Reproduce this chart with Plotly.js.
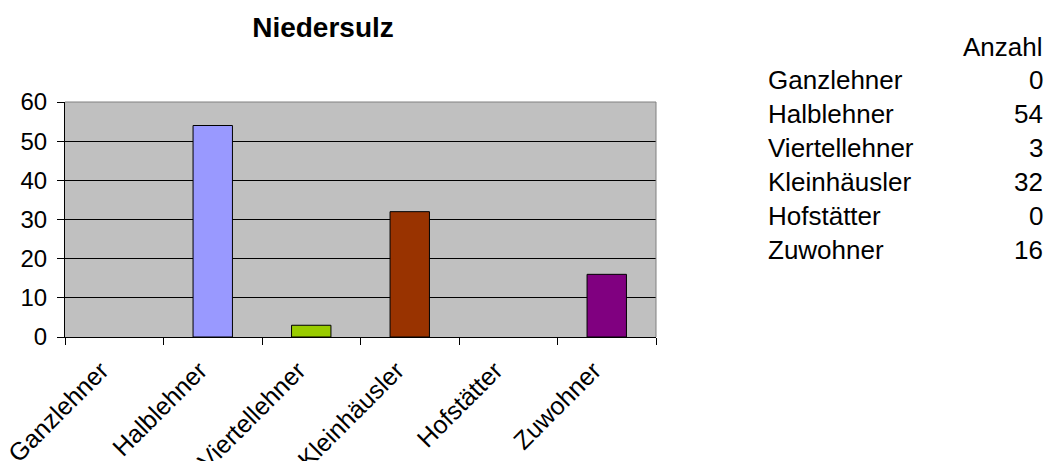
<!DOCTYPE html>
<html>
<head>
<meta charset="utf-8">
<script src="https://cdn.plot.ly/plotly-3.0.1.min.js"></script>
<style>html,body{margin:0;padding:0;background:#fff;}#chart{width:1050px;height:461px;}</style>
</head>
<body>
<div id="chart"></div>
<script>
const title = "Niedersulz";
const categories = ["Ganzlehner", "Halblehner", "Viertellehner", "Kleinhäusler", "Hofstätter", "Zuwohner"];
const values = [0, 54, 3, 32, 0, 16];
const barColors = ["#9999FF", "#9999FF", "#99CC00", "#993300", "#FFFFCC", "#800080"];
const tableHeader = "Anzahl";
const yTicks = [0, 10, 20, 30, 40, 50, 60];

const W = 1050, H = 461;
const L = 65, R = 656, T = 102, B = 337.5;
const px2x = p => (p - L) / (R - L);
const px2y = p => (B - p) / (B - T);
const FONT = 'Liberation Sans, Arial, sans-serif';

const annotations = [];
annotations.push({xref:'paper', yref:'paper', x:px2x(1045), y:px2y(47), xanchor:'right', yanchor:'middle',
  text: tableHeader, showarrow:false, font:{family:FONT, size:26, color:'#000'}});
const rowY0 = 80, rowStep = 34;
categories.forEach((c, i) => {
  const py = rowY0 + i * rowStep;
  annotations.push({xref:'paper', yref:'paper', x:px2x(766), y:px2y(py), xanchor:'left', yanchor:'middle',
    text: c, showarrow:false, font:{family:FONT, size:26, color:'#000'}});
  annotations.push({xref:'paper', yref:'paper', x:px2x(1045), y:px2y(py), xanchor:'right', yanchor:'middle',
    text: String(values[i]), showarrow:false, font:{family:FONT, size:26, color:'#000'}});
});

const data = [{
  type:'bar', x: categories, y: values,
  marker:{color: barColors, line:{color:'#000', width: values.map(v => v === 0 ? 0 : 1)}},
  hoverinfo:'none'
}];

const layout = {
  width: W, height: H,
  margin: {l: L, r: W - R, t: T, b: H - B, pad: 0},
  paper_bgcolor:'#fff', plot_bgcolor:'#C0C0C0',
  font:{family:FONT, color:'#000'},
  title:{text:'<b>' + title + '</b>', xref:'container', yref:'container', x:323/W, xanchor:'center',
    y: 1 - 27/H, yanchor:'middle', font:{size:28, color:'#000', family:FONT}},
  bargap: 0.6,
  showlegend:false,
  xaxis:{type:'category', showgrid:false, showline:true, linecolor:'#000', linewidth:1,
    ticks:'outside', tickson:'boundaries', ticklen:7, tickcolor:'#000', tickwidth:1,
    tickangle:-45, tickfont:{size:25, color:'#000'}, ticklabelshift:-13, ticklabelstandoff:8,
    zeroline:false, fixedrange:true},
  yaxis:{range:[0,60], tickvals: yTicks, showgrid:true, gridcolor:'#000', gridwidth:1,
    showline:true, linecolor:'#000', linewidth:1, ticks:'outside', ticklen:7, tickcolor:'#000',
    tickfont:{size:24, color:'#000'}, ticklabelstandoff:5, zeroline:false, fixedrange:true},
  shapes:[
    {type:'line', xref:'paper', yref:'paper', x0:0, x1:1, y0:1, y1:1, line:{color:'#808080', width:1}, layer:'above'},
    {type:'line', xref:'paper', yref:'paper', x0:1, x1:1, y0:0, y1:1, line:{color:'#808080', width:1}, layer:'above'}
  ],
  annotations: annotations
};

Plotly.newPlot('chart', data, layout, {displayModeBar:false, staticPlot:true});
</script>
</body>
</html>
